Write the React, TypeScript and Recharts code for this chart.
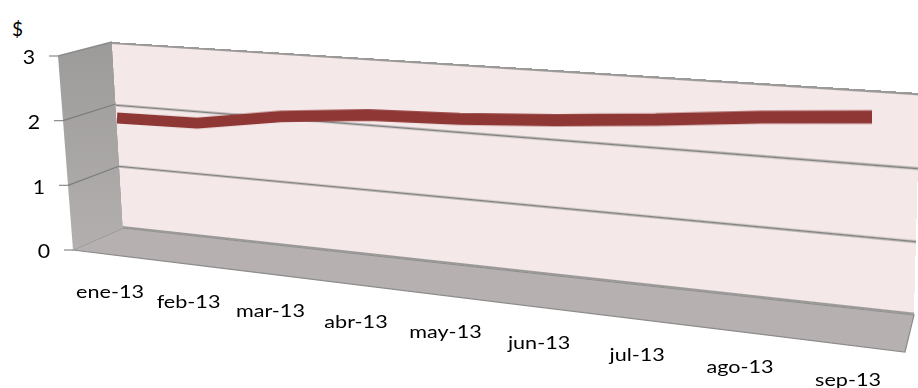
import React from 'react';
import { LineChart, Line, XAxis, YAxis, ReferenceLine } from 'recharts';

document.body.style.margin = '0';

const meses = ['ene-13', 'feb-13', 'mar-13', 'abr-13', 'may-13', 'jun-13', 'jul-13', 'ago-13', 'sep-13'];
const precios = [2.0, 1.92, 2.02, 2.04, 1.98, 1.96, 1.97, 2.0, 2.0];
const ticksValor = [0, 1, 2, 3];

const datos = meses.map((mes, i) => ({ mes, precio: precios[i] }));

type Pt = [number, number];

// corners of the 3D box (screen px)
const FRENTE_ARRIBA: Pt = [58, 56];
const FRENTE_ABAJO: Pt = [73, 250];
const FONDO_ARRIBA_IZQ: Pt = [112, 42];
const FONDO_ABAJO_IZQ: Pt = [123, 228];
const FONDO_ARRIBA_DER: Pt = [920, 93];
const FONDO_ABAJO_DER: Pt = [914, 315];
const PISO_FRENTE_DER: Pt = [905, 352];

// plane where the ribbon sits (a bit in front of the back wall)
const PLANO_CINTA: Pt[] = [[117, 54], [872, 40], [872, 271], [117, 246]];
const PARED_FONDO: Pt[] = [FONDO_ARRIBA_IZQ, FONDO_ARRIBA_DER, FONDO_ABAJO_DER, FONDO_ABAJO_IZQ];

const PROFUNDIDAD = 1.2; // near/far size ratio along the category axis
const FUENTE = "Lato, 'Open Sans', sans-serif";

const lerp = (a: Pt, b: Pt, t: number): Pt => [a[0] + (b[0] - a[0]) * t, a[1] + (b[1] - a[1]) * t];

// maps a w x h rectangle onto a quad (TL, TR, BR, BL) as a CSS matrix3d
function matrizPerspectiva(w: number, h: number, quad: Pt[]) {
  const [[x0, y0], [x1, y1], [x2, y2], [x3, y3]] = quad;
  const sx = x0 - x1 + x2 - x3;
  const sy = y0 - y1 + y2 - y3;
  const dx1 = x1 - x2, dx2 = x3 - x2, dy1 = y1 - y2, dy2 = y3 - y2;
  const den = dx1 * dy2 - dx2 * dy1;
  const g = (sx * dy2 - dx2 * sy) / den;
  const k = (dx1 * sy - sx * dy1) / den;
  const a = x1 - x0 + g * x1;
  const b = x3 - x0 + k * x3;
  const d = y1 - y0 + g * y1;
  const e = y3 - y0 + k * y3;
  return `matrix3d(${a / w},${d / w},0,${g / w},${b / h},${e / h},0,${k / h},0,0,1,0,${x0},${y0},0,1)`;
}

const Plano = ({ w, h, quad, children }: { w: number; h: number; quad: Pt[]; children: React.ReactNode }) => (
  <div
    style={{
      position: 'absolute', left: 0, top: 0, width: w, height: h,
      transformOrigin: '0 0', transform: matrizPerspectiva(w, h, quad),
    }}
  >
    {children}
  </div>
);

// y labels follow the slanted front edge of the side wall
const EtiquetaValor = (props: any) => {
  const { y, payload } = props;
  const t = (y - FRENTE_ARRIBA[1]) / (FRENTE_ABAJO[1] - FRENTE_ARRIBA[1]);
  const bordeX = FRENTE_ARRIBA[0] + (FRENTE_ABAJO[0] - FRENTE_ARRIBA[0]) * t;
  return (
    <g>
      <line x1={bordeX - 9} x2={bordeX} y1={y} y2={y} stroke="#8a8a8a" strokeWidth={1.2} />
      <text
        transform={`translate(${bordeX - 23},${y + 1}) scale(1.15,1)`}
        textAnchor="end" dominantBaseline="central"
        fontFamily={FUENTE} fontSize={18.5} fill="#000"
      >
        {payload.value}
      </text>
    </g>
  );
};

// month labels run along the receding floor edge
const EtiquetaMes = (props: any) => {
  const { index, payload } = props;
  const t = index / (meses.length - 1);
  const s = t / (PROFUNDIDAD - t * (PROFUNDIDAD - 1));
  const x = 110 + 738 * s;
  const y = 291 + 0.119 * (x - 110);
  return (
    <text
      transform={`translate(${x},${y}) scale(1.2,1)`}
      textAnchor="middle" dominantBaseline="central"
      fontFamily={FUENTE} fontSize={18} fill="#000"
    >
      {payload.value}
    </text>
  );
};

const Caja = () => {
  const lineasPared = [1, 2].map((v) => [lerp(FRENTE_ABAJO, FRENTE_ARRIBA, v / 3), lerp(FONDO_ABAJO_IZQ, FONDO_ARRIBA_IZQ, v / 3)]);
  const pts = (arr: Pt[]) => arr.map((p) => p.join(',')).join(' ');
  return (
    <svg width={918} height={388} style={{ position: 'absolute', left: 0, top: 0 }}>
      <defs>
        <linearGradient id="paredLateral" x1="0" y1="0" x2="0" y2="1">
          <stop offset="0%" stopColor="#9d9a9a" />
          <stop offset="100%" stopColor="#b3afaf" />
        </linearGradient>
      </defs>
      <polygon
        points={pts([FRENTE_ABAJO, FONDO_ABAJO_IZQ, FONDO_ABAJO_DER, PISO_FRENTE_DER])}
        fill="#b6b0b0" stroke="#8c8c8c" strokeWidth={1.2}
      />
      <polygon
        points={pts([FRENTE_ARRIBA, FONDO_ARRIBA_IZQ, FONDO_ABAJO_IZQ, FRENTE_ABAJO])}
        fill="url(#paredLateral)"
      />
      <line x1={FRENTE_ARRIBA[0]} y1={FRENTE_ARRIBA[1]} x2={FONDO_ARRIBA_IZQ[0]} y2={FONDO_ARRIBA_IZQ[1]} stroke="#8a8a8a" strokeWidth={1.3} />
      {lineasPared.map(([a, b], i) => (
        <line key={i} x1={a[0]} y1={a[1]} x2={b[0]} y2={b[1]} stroke="#7c7c7c" strokeWidth={1.2} />
      ))}
      <text x={12} y={28} dominantBaseline="central" fontFamily={FUENTE} fontSize={19} fill="#000">$</text>
    </svg>
  );
};

export default function App() {
  const sinMargen = { top: 0, right: 0, bottom: 0, left: 0 };
  return (
    <div style={{ position: 'relative', width: 918, height: 388, overflow: 'hidden', background: '#fff' }}>
      <Caja />

      {/* back wall with the value gridlines */}
      <Plano w={800} h={186} quad={PARED_FONDO}>
        <div style={{ background: '#f4e8e8', width: 800, height: 186 }}>
          <LineChart width={800} height={186} data={datos} margin={{ top: 1, right: 0, bottom: 1, left: 0 }}>
            <XAxis dataKey="mes" hide />
            <YAxis hide dataKey="precio" type="number" domain={[0, 3]} allowDataOverflow />
            {ticksValor.map((v) => (
              <ReferenceLine key={v} y={v} stroke="#7f7f7f" strokeWidth={1.6} ifOverflow="visible" />
            ))}
          </LineChart>
        </div>
      </Plano>

      {/* price ribbon */}
      <Plano w={755} h={192} quad={PLANO_CINTA}>
        <LineChart width={755} height={192} data={datos} margin={sinMargen}>
          <XAxis dataKey="mes" hide padding={{ left: 0, right: 0 }} />
          <YAxis hide domain={[0, 3]} allowDataOverflow />
          <Line
            type="linear" dataKey="precio" stroke="#8f3735" strokeWidth={11}
            strokeLinejoin="bevel" dot={false} activeDot={false} isAnimationActive={false}
          />
        </LineChart>
      </Plano>

      {/* axis labels, drawn flat on top */}
      <div style={{ position: 'absolute', left: 0, top: 0 }}>
        <LineChart width={918} height={388} data={datos} margin={{ top: 56, right: 40, bottom: 108, left: 0 }}>
          <XAxis dataKey="mes" axisLine={false} tickLine={false} height={30} interval={0} tick={<EtiquetaMes />} />
          <YAxis
            width={58} dataKey="precio" type="number" domain={[0, 3]} allowDataOverflow ticks={ticksValor}
            axisLine={false} tickLine={false} tick={<EtiquetaValor />}
          />
        </LineChart>
      </div>
    </div>
  );
}
